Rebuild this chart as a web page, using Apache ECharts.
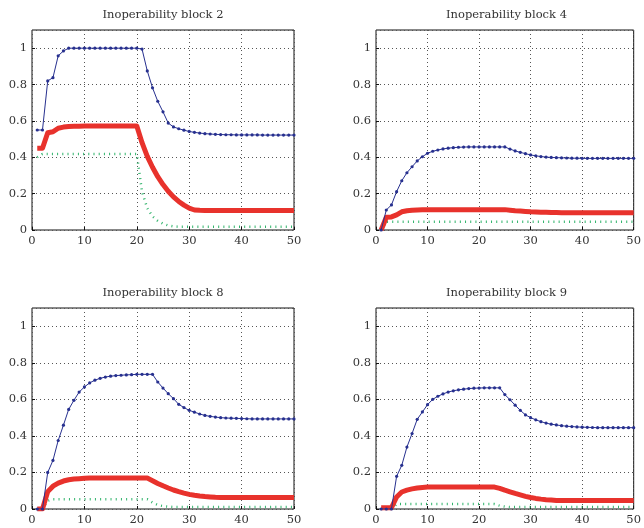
<!DOCTYPE html>
<html><head><meta charset="utf-8">
<script src="https://cdn.jsdelivr.net/npm/echarts@6/dist/echarts.min.js"></script>
<style>html,body{margin:0;padding:0;background:#fff}#c{width:644px;height:528px}</style>
</head><body><div id="c"></div>
<script>
const steps = [1,2,3,4,5,6,7,8,9,10,11,12,13,14,15,16,17,18,19,20,21,22,23,24,25,26,27,28,29,30,31,32,33,34,35,36,37,38,39,40,41,42,43,44,45,46,47,48,49,50];
const titles = ['Inoperability block 2','Inoperability block 4','Inoperability block 8','Inoperability block 9'];
const xTicks = [0,10,20,30,40,50];
const yTicks = [0,0.2,0.4,0.6,0.8,1];

const blue2 = [0.55,0.55,0.82,0.838,0.958,0.985,1,1,1,1, 1,1,1,1,1,1,1,1,1,1, 0.995,0.875,0.782,0.708,0.65,0.588,0.567,0.557,0.549,0.542, 0.537,0.533,0.53,0.528,0.526,0.525,0.524,0.524,0.523,0.523, 0.523,0.523,0.523,0.522,0.522,0.522,0.522,0.522,0.522,0.522];
const red2 = [0.45,0.45,0.535,0.54,0.56,0.566,0.569,0.57,0.571,0.572, 0.572,0.572,0.572,0.572,0.572,0.572,0.572,0.572,0.572,0.572, 0.48,0.405,0.345,0.293,0.25,0.213,0.182,0.157,0.137,0.12, 0.11,0.108,0.107,0.107,0.107,0.107,0.107,0.107,0.107,0.107, 0.107,0.107,0.107,0.107,0.107,0.107,0.107,0.107,0.107,0.107];
const green2 = [0.4,0.418,0.418,0.418,0.418,0.418,0.418,0.418,0.418,0.418, 0.418,0.418,0.418,0.418,0.418,0.418,0.418,0.418,0.418,0.418, 0.21,0.12,0.075,0.05,0.035,0.025,0.02,0.018,0.018,0.018, 0.018,0.018,0.018,0.018,0.018,0.018,0.018,0.018,0.018,0.018, 0.018,0.018,0.018,0.018,0.018,0.018,0.018,0.018,0.018,0.018];

const blue4 = [0,0.11,0.138,0.211,0.271,0.315,0.348,0.38,0.403,0.422, 0.433,0.44,0.446,0.45,0.453,0.455,0.456,0.457,0.457,0.457, 0.457,0.457,0.457,0.457,0.457,0.445,0.435,0.427,0.42,0.413, 0.408,0.404,0.401,0.399,0.398,0.397,0.396,0.395,0.395,0.394, 0.394,0.394,0.394,0.394,0.394,0.394,0.394,0.394,0.394,0.394];
const red4 = [0,0.07,0.072,0.083,0.1,0.106,0.109,0.11,0.111,0.112, 0.112,0.112,0.112,0.112,0.112,0.112,0.112,0.112,0.112,0.112, 0.112,0.112,0.112,0.112,0.112,0.109,0.106,0.104,0.102,0.1, 0.099,0.098,0.097,0.096,0.096,0.095,0.095,0.095,0.095,0.095, 0.095,0.095,0.095,0.095,0.095,0.095,0.095,0.095,0.095,0.095];
const green4 = [0,0.045,0.045,0.045,0.045,0.045,0.045,0.045,0.045,0.045, 0.045,0.045,0.045,0.045,0.045,0.045,0.045,0.045,0.045,0.045, 0.045,0.045,0.045,0.045,0.045,0.045,0.045,0.045,0.045,0.045, 0.045,0.045,0.045,0.045,0.045,0.045,0.045,0.045,0.045,0.045, 0.045,0.045,0.045,0.045,0.045,0.045,0.045,0.045,0.045,0.045];

const blue8 = [0,0,0.2,0.266,0.375,0.459,0.545,0.595,0.64,0.668, 0.69,0.705,0.715,0.722,0.727,0.73,0.732,0.734,0.735,0.737, 0.737,0.737,0.737,0.695,0.662,0.631,0.604,0.573,0.555,0.54, 0.53,0.52,0.512,0.507,0.503,0.5,0.498,0.497,0.496,0.495, 0.494,0.493,0.493,0.493,0.493,0.493,0.493,0.493,0.493,0.493];
const red8 = [0,0,0.095,0.125,0.142,0.153,0.16,0.164,0.166,0.168, 0.169,0.169,0.169,0.169,0.169,0.169,0.169,0.169,0.169,0.169, 0.169,0.169,0.155,0.14,0.127,0.115,0.104,0.095,0.087,0.08, 0.075,0.071,0.068,0.066,0.064,0.063,0.063,0.063,0.063,0.063, 0.063,0.063,0.063,0.063,0.063,0.063,0.063,0.063,0.063,0.063];
const green8 = [0,0,0.045,0.053,0.053,0.053,0.053,0.053,0.053,0.053, 0.053,0.053,0.053,0.053,0.053,0.053,0.053,0.053,0.053,0.053, 0.053,0.053,0.035,0.022,0.016,0.013,0.011,0.011,0.011,0.011, 0.011,0.011,0.011,0.011,0.011,0.011,0.011,0.011,0.011,0.011, 0.011,0.011,0.011,0.011,0.011,0.011,0.011,0.011,0.011,0.011];

const blue9 = [0,0,0,0.179,0.239,0.339,0.413,0.491,0.531,0.571, 0.6,0.617,0.63,0.64,0.647,0.652,0.656,0.659,0.661,0.662, 0.663,0.663,0.663,0.663,0.626,0.598,0.568,0.54,0.515,0.5, 0.488,0.478,0.47,0.464,0.46,0.456,0.453,0.451,0.449,0.448, 0.447,0.446,0.445,0.445,0.445,0.445,0.445,0.445,0.445,0.445];
const red9 = [0.007,0.007,0.007,0.066,0.093,0.103,0.11,0.115,0.118,0.12, 0.12,0.12,0.12,0.12,0.12,0.12,0.12,0.12,0.12,0.12, 0.12,0.12,0.12,0.113,0.103,0.094,0.085,0.077,0.069,0.063, 0.058,0.054,0.051,0.049,0.047,0.046,0.046,0.046,0.046,0.046, 0.046,0.046,0.046,0.046,0.046,0.046,0.046,0.046,0.046,0.046];
const green9 = [0,0,0,0.027,0.027,0.027,0.027,0.027,0.027,0.027, 0.027,0.027,0.027,0.027,0.027,0.027,0.027,0.027,0.027,0.027, 0.027,0.027,0.027,0.018,0.013,0.011,0.011,0.011,0.011,0.011, 0.011,0.011,0.011,0.011,0.011,0.011,0.011,0.011,0.011,0.011, 0.011,0.011,0.011,0.011,0.011,0.011,0.011,0.011,0.011,0.011];

const panels = [
  {blue: blue2, red: red2, green: green2},
  {blue: blue4, red: red4, green: green4},
  {blue: blue8, red: red8, green: green8},
  {blue: blue9, red: red9, green: green9}
];

const FONT = 'DejaVu Serif';
const gridBoxes = [
  {left: 32, top: 30, width: 262, height: 200},
  {left: 376, top: 30, width: 261, height: 200},
  {left: 32, top: 308, width: 262, height: 201},
  {left: 376, top: 308, width: 261, height: 201}
];
const titleTops = [9, 9, 287, 287];

const pairs = arr => steps.map((x, i) => [x, arr[i]]);

const option = {
  animation: false,
  backgroundColor: '#fff',
  title: titles.map((t, i) => ({
    text: t,
    left: gridBoxes[i].left + gridBoxes[i].width / 2,
    top: titleTops[i],
    textAlign: 'center',
    padding: 0,
    textStyle: {fontFamily: FONT, fontSize: 11.5, fontWeight: 'normal', color: '#333'}
  })),
  grid: gridBoxes.map(g => Object.assign({show: true, borderColor: '#111', borderWidth: 1, backgroundColor: 'transparent'}, g)),
  xAxis: gridBoxes.map((g, i) => ({
    type: 'value', gridIndex: i, min: xTicks[0], max: xTicks[xTicks.length - 1], interval: 10,
    axisLine: {show: false},
    axisTick: {show: true, inside: true, length: 3, lineStyle: {color: '#111'}},
    axisLabel: {fontFamily: FONT, fontSize: 11.5, color: '#333', margin: 5},
    splitLine: {show: true, lineStyle: {color: '#555', type: [1, 3], width: 1}}
  })),
  yAxis: gridBoxes.map((g, i) => ({
    type: 'value', gridIndex: i, min: 0, max: 1.1, interval: 0.2,
    axisLine: {show: false},
    axisTick: {show: true, inside: true, length: 3, lineStyle: {color: '#111'}},
    axisLabel: {fontFamily: FONT, fontSize: 11.5, color: '#333', margin: 5, showMaxLabel: false,
      formatter: v => (yTicks.some(t => Math.abs(t - v) < 1e-9) ? String(+v.toFixed(1)) : '')},
    splitLine: {show: true, lineStyle: {color: '#555', type: [1, 3], width: 1}}
  })),
  series: []
};

panels.forEach((p, i) => {
  option.series.push({
    type: 'line', xAxisIndex: i, yAxisIndex: i, data: pairs(p.green), showSymbol: false, symbol: 'none',
    lineStyle: {color: '#2fb36a', width: 2.5, type: [1, 4.2], cap: 'butt'}, z: 2
  });
  option.series.push({
    type: 'line', xAxisIndex: i, yAxisIndex: i, data: pairs(p.red), symbol: 'none',
    lineStyle: {color: '#e8322c', width: 5, cap: 'butt', join: 'round'}, z: 3
  });
  option.series.push({
    type: 'line', xAxisIndex: i, yAxisIndex: i, data: pairs(p.blue), symbol: 'circle', symbolSize: 3.2,
    itemStyle: {color: '#27308f'},
    lineStyle: {color: '#27308f', width: 1}, z: 4
  });
});

const chart = echarts.init(document.getElementById('c'), null, {renderer: 'canvas'});
chart.setOption(option);
</script>
</body></html>
